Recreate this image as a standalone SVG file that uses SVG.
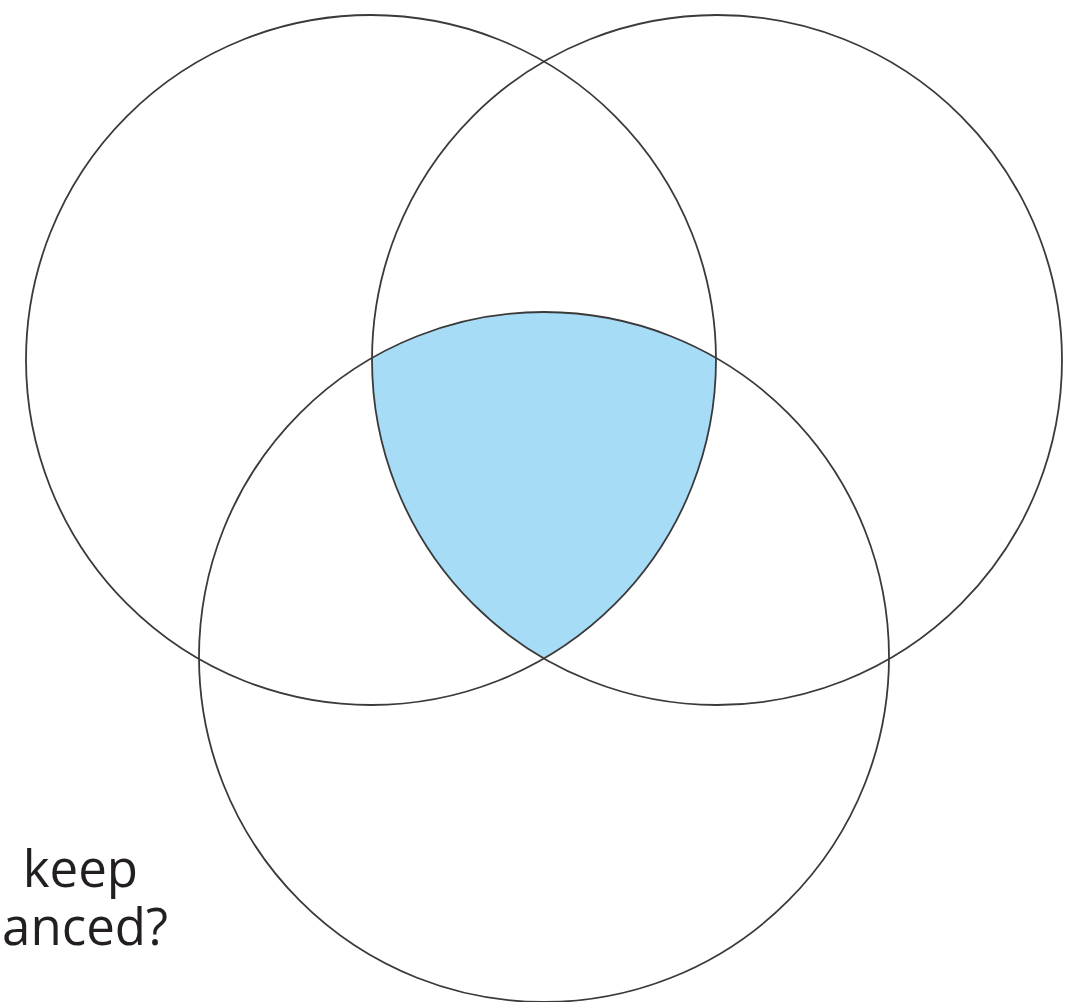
<svg xmlns="http://www.w3.org/2000/svg" width="1075" height="1002" viewBox="0 0 1075 1002">
  <style>
    .ring { fill: none; stroke: #3a3a3a; stroke-width: 1.8; }
    .core { fill: #a7dcf6; stroke: none; }
    .lbl { font-family: "Open Sans", "Noto Sans", "Liberation Sans", sans-serif; font-size: 51px; fill: #231f20; }
  </style>
  <rect width="1075" height="1002" fill="#ffffff"/>
  <g id="intersection">
    <path class="core" d="M 372,357.9 A 345 345 0 0 1 716,357.9 A 345 345 0 0 1 544,658.5 A 345 345 0 0 1 372,357.9 Z"/>
  </g>
  <g id="circle-left">
    <circle class="ring" cx="371" cy="360" r="345"/>
  </g>
  <g id="circle-right">
    <circle class="ring" cx="717" cy="360" r="345"/>
  </g>
  <g id="circle-bottom">
    <circle class="ring" cx="544" cy="657" r="345"/>
  </g>
  <g id="caption">
    <text class="lbl" text-anchor="end"><tspan x="138" y="887">keep</tspan><tspan x="168" y="945">anced?</tspan></text>
  </g>
</svg>
